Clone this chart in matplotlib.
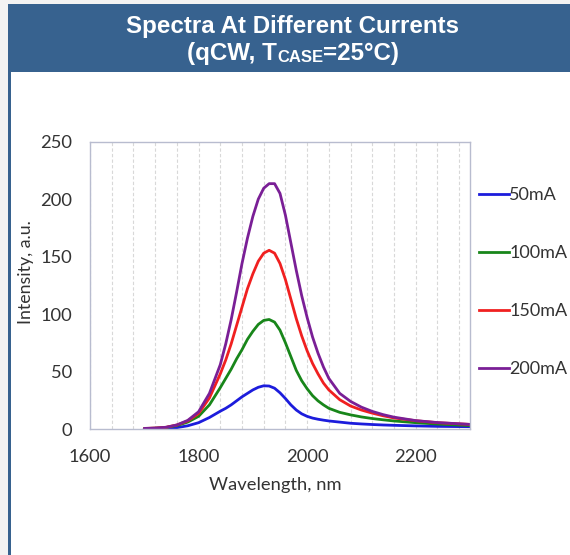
import matplotlib
matplotlib.use("Agg")
import matplotlib.pyplot as plt
from matplotlib.lines import Line2D
from matplotlib.patches import Rectangle

# ---- data ----
wavelength = [1700, 1720, 1740, 1760, 1780, 1800, 1820, 1840, 1850, 1860, 1870,
              1880, 1890, 1900, 1910, 1920, 1930, 1940, 1950, 1960, 1970, 1980,
              1990, 2000, 2010, 2020, 2030, 2040, 2060, 2080, 2100, 2120, 2140,
              2160, 2200, 2240, 2300]
i_50mA = [0.2, 0.3, 0.6, 1.2, 2.8, 5.5, 10, 15.5, 18, 21, 24.5,
          28, 31, 34, 36.3, 37.6, 37.4, 35.5, 31.5, 26.5, 21, 16.5,
          13.2, 11, 9.5, 8.5, 7.7, 7, 6, 5, 4.4, 3.9, 3.5,
          3.2, 2.7, 2.3, 2]
i_100mA = [0.4, 0.7, 1.3, 3, 6, 11, 21, 36, 44, 52, 61,
           69, 78, 85, 91, 94.5, 95.3, 93, 86, 75, 63, 51,
           42, 35, 29, 24.5, 21, 18, 14.5, 12.3, 10.5, 9.1, 8,
           7, 5.5, 4.3, 3]
i_150mA = [0.5, 0.8, 1.5, 3.5, 7, 13.5, 27, 48, 60, 74, 90,
           106, 122, 135, 146, 153, 155.5, 153, 144, 130, 113, 96,
           81, 68, 57, 48, 40, 34, 25.5, 20, 16.5, 13.8, 11.5,
           9.6, 7.2, 5.5, 4]
i_200mA = [0.5, 0.8, 1.5, 3.5, 7.5, 15, 31, 56, 74, 95, 119,
           144, 166, 185, 200, 209.5, 213.5, 213.5, 205, 186, 162, 138,
           116, 97, 80, 66, 54, 44, 31, 24, 19, 15.3, 12.5,
           10.3, 7.3, 5.6, 4]
series_labels = ["50mA", "100mA", "150mA", "200mA"]
series_colors = ["#1c1cdc", "#18861a", "#f02020", "#7a1f96"]
x_ticks = [1600, 1800, 2000, 2200]
y_ticks = [0, 50, 100, 150, 200, 250]

W, H = 570, 555
fig = plt.figure(figsize=(W / 100, H / 100), dpi=100)
fig.patch.set_facecolor("#f3f3f3")

def fx(px):
    return px / W

def fy(py):
    return 1 - py / H

header_col = "#37628f"
# white panel
fig.patches.append(Rectangle((fx(8), 0), 1 - fx(8), fy(4), transform=fig.transFigure,
                             facecolor="white", edgecolor="none", zorder=-2))
# header
fig.patches.append(Rectangle((fx(7.5), fy(72)), 1 - fx(7.5), fy(4) - fy(72),
                             transform=fig.transFigure, facecolor=header_col,
                             edgecolor="none", zorder=-1))
# left border
fig.patches.append(Rectangle((fx(7.5), 0), fx(3.5), fy(72), transform=fig.transFigure,
                             facecolor=header_col, edgecolor="none", zorder=-1))

tfont = "Liberation Sans"
fig.text(fx(293), fy(33), "Spectra At Different Currents", ha="center", va="baseline",
         color="white", fontsize=17.4, fontweight="bold", family=tfont)

# second title line, with subscript
renderer = fig.canvas.get_renderer()
parts = [("(qCW, T", 17.4, 0), ("CASE", 12, -2), ("=25°C)", 17.4, 0)]
texts = []
widths = []
for s, size, dy in parts:
    t = fig.text(0, 0, s, fontsize=size, fontweight="bold", family=tfont, color="white",
                 ha="left", va="baseline")
    texts.append(t)
    widths.append(t.get_window_extent(renderer).width)
total = sum(widths)
x0 = 293 - total / 2
base = 60
for t, w, (s, size, dy) in zip(texts, widths, parts):
    t.set_position((fx(x0), fy(base - dy)))
    x0 += w

# axes
L, R, T, B = 90, 470, 141.7, 429
ax = fig.add_axes([fx(L), fy(B), fx(R - L), fy(T) - fy(B)])
ax.set_zorder(5)
ax.set_facecolor("white")
for lab, col, vals in zip(series_labels, series_colors, [i_50mA, i_100mA, i_150mA, i_200mA]):
    ax.plot(wavelength, vals, color=col, lw=2.0, solid_capstyle="round",
            solid_joinstyle="round", label=lab)

ax.set_xlim(1600, 2300)
ax.set_ylim(0, 250)
ax.set_xticks(x_ticks)
ax.set_xticks(range(1600, 2301, 40), minor=True)
ax.set_yticks(y_ticks)
ax.grid(True, axis="x", which="both", color="#d8d8d8", ls=(0, (3, 2)), lw=0.8)
ax.set_axisbelow(True)
for sp in ax.spines.values():
    sp.set_color("#b8bccf")
    sp.set_linewidth(1.0)
lfont = "Lato"
ax.tick_params(axis="both", which="both", length=0, labelsize=13.2, labelcolor="#333333")
ax.tick_params(axis="x", pad=14.5)
ax.tick_params(axis="y", pad=13)
for lbl in ax.get_xticklabels() + ax.get_yticklabels():
    lbl.set_family(lfont)
ax.set_xlabel("Wavelength, nm", fontsize=13.2, family=lfont, color="#333333")
ax.set_ylabel("Intensity, a.u.", fontsize=12.8, family=lfont, color="#333333")
ax.xaxis.set_label_coords((275.5 - L) / (R - L), (B - 477) / (B - T))
ax.yaxis.set_label_coords((18 - L) / (R - L), (B - 272) / (B - T))
ax.yaxis.label.set_verticalalignment("top")

handles = [Line2D([], [], color=c, lw=2.0) for c in series_colors]
leg = fig.legend(handles, series_labels, loc="upper left",
                 bbox_to_anchor=(fx(472), fy(180)), frameon=False,
                 prop={"family": lfont, "size": 13}, handlelength=1.65,
                 handletextpad=0.02, labelspacing=2.32, borderaxespad=0)
for t in leg.get_texts():
    t.set_color("#333333")

fig.savefig("out.png", dpi=100, facecolor=fig.get_facecolor())
